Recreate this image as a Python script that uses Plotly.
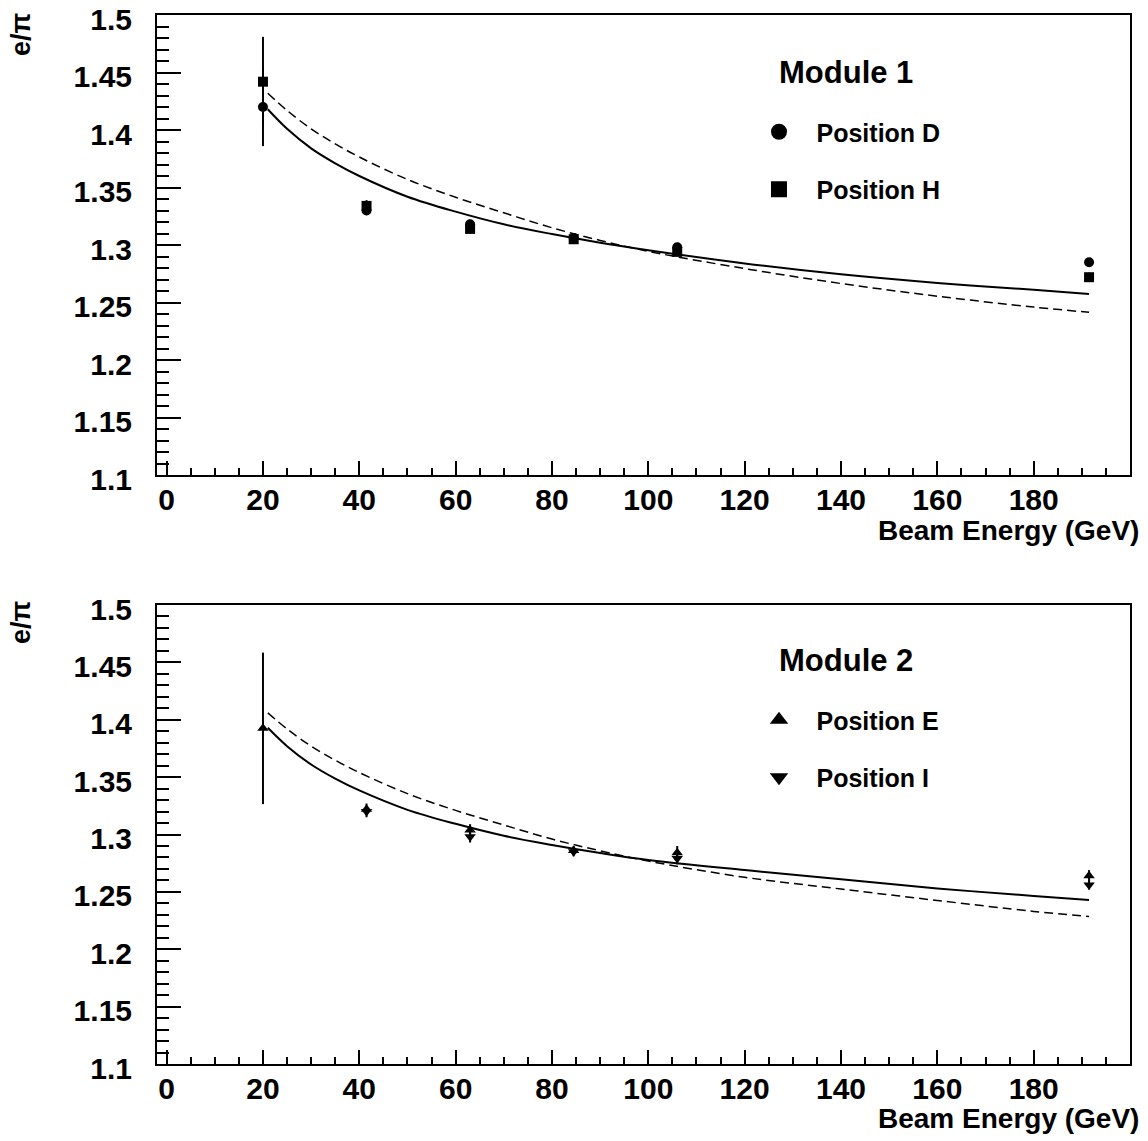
import plotly.graph_objects as go
from plotly.subplots import make_subplots

# ---------------- data ----------------
# x positions of measurements as they appear on the axis
x_top = [20, 41.5, 63, 84.5, 106, 191.5]
pos_D = [1.420, 1.330, 1.318, 1.306, 1.298, 1.285]
err_D = [0.034, 0.004, 0.004, 0.004, 0.003, 0.003]
pos_H = [1.442, 1.334, 1.314, 1.305, 1.294, 1.272]
err_H = [0.039, 0.005, 0.004, 0.004, 0.003, 0.004]

x_E = [20, 41.5, 63, 84.5, 106, 191.5]
pos_E = [1.3925, 1.322, 1.304, 1.286, 1.284, 1.264]
err_E = [0.066, 0.005, 0.005, 0.004, 0.006, 0.005]
x_I = [41.5, 63, 84.5, 106, 191.5]
pos_I = [1.320, 1.298, 1.285, 1.279, 1.256]
err_I = [0.005, 0.005, 0.004, 0.005, 0.004]

# fitted curves
x_fit = [21, 25, 30, 35, 40, 50, 60, 70, 80, 90, 100, 120, 140, 160, 180, 191.5]
fit1_solid = [1.418, 1.401, 1.384, 1.371, 1.360, 1.342, 1.329, 1.318, 1.3095, 1.302,
              1.2955, 1.284, 1.2745, 1.267, 1.261, 1.2575]
fit1_dash = [1.432, 1.417, 1.401, 1.388, 1.3765, 1.357, 1.3415, 1.328, 1.315, 1.304,
             1.2945, 1.2795, 1.2665, 1.2555, 1.246, 1.2415]
fit2_solid = [1.393, 1.377, 1.361, 1.3487, 1.3384, 1.3215, 1.3093, 1.2989, 1.2909, 1.2839,
              1.2778, 1.269, 1.261, 1.253, 1.2465, 1.243]
fit2_dash = [1.406, 1.392, 1.377, 1.3647, 1.354, 1.3356, 1.321, 1.3083, 1.296, 1.2858,
             1.2768, 1.2627, 1.2525, 1.2425, 1.233, 1.2285]

x_ticks = [0, 20, 40, 60, 80, 100, 120, 140, 160, 180]
y_ticks = [1.1, 1.15, 1.2, 1.25, 1.3, 1.35, 1.4, 1.45, 1.5]
y_ticktext = ["1.1", "1.15", "1.2", "1.25", "1.3", "1.35", "1.4", "1.45", "1.5"]

# ---------------- layout geometry ----------------
W, H = 1148, 1141
ML, MR, MT, MB = 157, 18, 15, 77
PW, PH = W - ML - MR, H - MT - MB


def px(xp):
    return (xp - ML) / PW


def py(yp):
    return (H - MB - yp) / PH


FONT = "Liberation Sans, Arial, sans-serif"

fig = make_subplots(rows=2, cols=1, vertical_spacing=0.12)
fig.update_layout(
    yaxis=dict(domain=[py(475), 1.0]),
    yaxis2=dict(domain=[0.0, py(605)]),
)

err_style = dict(type="data", thickness=2, width=0, color="black")
SP = "\u2002\u2009"

# ---- top panel ----
fig.add_trace(go.Scatter(x=x_fit, y=fit1_dash, mode="lines", line_shape="spline",
                         line=dict(color="black", width=1.5, dash="9px,5px"),
                         showlegend=False, hoverinfo="skip"), row=1, col=1)
fig.add_trace(go.Scatter(x=x_fit, y=fit1_solid, mode="lines", line_shape="spline",
                         line=dict(color="black", width=2),
                         showlegend=False, hoverinfo="skip"), row=1, col=1)
fig.add_trace(go.Scatter(x=x_top, y=pos_D, mode="markers",
                         marker=dict(symbol="circle", size=10, color="black"),
                         error_y=dict(array=err_D, **err_style),
                         showlegend=False), row=1, col=1)
fig.add_trace(go.Scatter(x=x_top, y=pos_H, mode="markers",
                         marker=dict(symbol="square", size=10, color="black"),
                         error_y=dict(array=err_H, **err_style),
                         showlegend=False), row=1, col=1)
# legend entries
fig.add_trace(go.Scatter(x=[None], y=[None], mode="markers", name=SP + "Position D",
                         marker=dict(symbol="circle", size=16, color="black"),
                         legend="legend", legendgroup="D"), row=1, col=1)
fig.add_trace(go.Scatter(x=[None], y=[None], mode="markers", name=SP + "Position H",
                         marker=dict(symbol="square", size=16, color="black"),
                         legend="legend", legendgroup="H"), row=1, col=1)

# ---- bottom panel ----
fig.add_trace(go.Scatter(x=x_fit, y=fit2_dash, mode="lines", line_shape="spline",
                         line=dict(color="black", width=1.5, dash="9px,5px"),
                         showlegend=False, hoverinfo="skip"), row=2, col=1)
fig.add_trace(go.Scatter(x=x_fit, y=fit2_solid, mode="lines", line_shape="spline",
                         line=dict(color="black", width=2),
                         showlegend=False, hoverinfo="skip"), row=2, col=1)
fig.add_trace(go.Scatter(x=x_E, y=pos_E, mode="markers",
                         marker=dict(symbol="triangle-up", size=10, color="black"),
                         error_y=dict(array=err_E, **err_style),
                         showlegend=False), row=2, col=1)
fig.add_trace(go.Scatter(x=x_I, y=pos_I, mode="markers",
                         marker=dict(symbol="triangle-down", size=10, color="black"),
                         error_y=dict(array=err_I, **err_style),
                         showlegend=False), row=2, col=1)
fig.add_trace(go.Scatter(x=[None], y=[None], mode="markers", name=SP + "Position E",
                         marker=dict(symbol="triangle-up", size=16, color="black"),
                         legend="legend2", legendgroup="E"), row=2, col=1)
fig.add_trace(go.Scatter(x=[None], y=[None], mode="markers", name=SP + "Position I",
                         marker=dict(symbol="triangle-down", size=16, color="black"),
                         legend="legend2", legendgroup="I"), row=2, col=1)

axis_common = dict(showline=True, linewidth=2, linecolor="black", mirror=True,
                   showgrid=False, zeroline=False, ticks="inside", tickcolor="black",
                   tickwidth=1.5, automargin=False, ticklabeloverflow="allow",
                   tickfont=dict(family=FONT, size=30, color="black", weight="bold"))

for r in (1, 2):
    fig.update_xaxes(range=[-2, 200], tickvals=x_ticks, ticklen=14,
                     ticklabelstandoff=-3,
                     minor=dict(tickvals=[v for v in range(5, 200, 5) if v % 20],
                                ticklen=7, ticks="inside", tickcolor="black", tickwidth=1.5),
                     **axis_common, row=r, col=1)
    fig.update_yaxes(range=[1.1, 1.5], tickvals=y_ticks, ticktext=y_ticktext, ticklen=24,
                     ticklabelstandoff=17, ticklabelshift=4,
                     minor=dict(dtick=0.01, tick0=1.1, ticklen=12, ticks="inside",
                                tickcolor="black", tickwidth=1.5),
                     **axis_common, row=r, col=1)

OFF = 588
annotations = []
for k, (title, yoff) in enumerate([("Module 1", 0), ("Module 2", OFF)]):
    annotations.append(dict(text=title, xref="paper", yref="paper", x=px(846), y=py(72 + yoff),
                            xanchor="center", yanchor="middle", showarrow=False,
                            font=dict(family=FONT, size=31, color="black", weight="bold")))
    annotations.append(dict(text="e/\u03c0", xref="paper", yref="paper", x=px(21), y=py(35 + yoff),
                            xanchor="center", yanchor="middle", textangle=-90, showarrow=False,
                            font=dict(family=FONT, size=27, color="black", weight="bold")))
    annotations.append(dict(text="Beam Energy (GeV)", xref="paper", yref="paper", x=px(1141),
                            y=py(530 + yoff), xanchor="right", yanchor="middle", showarrow=False,
                            font=dict(family=FONT, size=28, color="black", weight="bold")))

leg_common = dict(xanchor="left", yanchor="top", bgcolor="rgba(0,0,0,0)", borderwidth=0,
                  tracegroupgap=22, itemclick=False, itemdoubleclick=False,
                  font=dict(family=FONT, size=25, color="black", weight="bold"))

fig.update_layout(
    width=W, height=H,
    margin=dict(l=ML, r=MR, t=MT, b=MB, pad=0, autoexpand=False),
    paper_bgcolor="white", plot_bgcolor="white",
    annotations=annotations,
    legend=dict(x=px(759), y=py(109), **leg_common),
    legend2=dict(x=px(759), y=py(109 + OFF), **leg_common),
)

fig.write_html("out.html", config={"displayModeBar": False},
               post_script="document.body.style.margin='0px';")
